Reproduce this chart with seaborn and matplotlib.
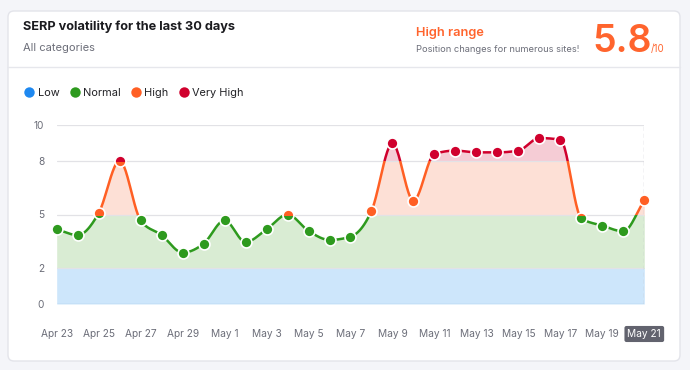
import numpy as np
import seaborn as sns
import matplotlib.pyplot as plt
from matplotlib.patches import FancyBboxPatch, Rectangle
from matplotlib.lines import Line2D
from matplotlib.transforms import IdentityTransform

# data
dates = ['Apr 23', 'Apr 24', 'Apr 25', 'Apr 26', 'Apr 27', 'Apr 28', 'Apr 29', 'Apr 30',
         'May 1', 'May 2', 'May 3', 'May 4', 'May 5', 'May 6', 'May 7', 'May 8', 'May 9',
         'May 10', 'May 11', 'May 12', 'May 13', 'May 14', 'May 15', 'May 16', 'May 17',
         'May 18', 'May 19', 'May 20', 'May 21']
volatility = [4.17, 3.85, 5.08, 8.0, 4.67, 3.85, 2.87, 3.37,
              4.67, 3.46, 4.17, 5.0, 4.08, 3.58, 3.76, 5.2, 8.97,
              5.77, 8.38, 8.57, 8.47, 8.47, 8.57, 9.27, 9.18,
              4.79, 4.38, 4.06, 5.8]
band_names = ['Low', 'Normal', 'High', 'Very High']
band_edges = [0, 2, 5, 8, 10]
y_ticks = [0, 2, 5, 8, 10]
score = 5.8

line_colors = ['#1e88f0', '#2e9a1e', '#ff5f24', '#d0002d']
fill_colors = ['#cde6fb', '#d9ecd3', '#fde0d6', '#f5ccd5']
ORANGE = '#ff642d'
GRAY = '#6c6e79'

W, H = 690, 370


def fx(x):
    return x / W


def fy(y):
    return 1 - y / H


def monotone(x, y, n=24):
    # monotone cubic (Fritsch-Carlson) for drawing the smooth line
    x = np.asarray(x, float)
    y = np.asarray(y, float)
    h = np.diff(x)
    d = np.diff(y) / h
    m = np.zeros_like(y)
    m[0], m[-1] = d[0], d[-1]
    for k in range(1, len(y) - 1):
        if d[k - 1] * d[k] <= 0:
            m[k] = 0
        else:
            p = (d[k - 1] * h[k] + d[k] * h[k - 1]) / (h[k - 1] + h[k])
            m[k] = np.sign(d[k]) * min(abs(d[k - 1]), abs(d[k]), 0.5 * abs(p)) * 2
    xs, ys = [], []
    for k in range(len(h)):
        t = np.linspace(0, 1, n, endpoint=False)
        h00 = 2 * t**3 - 3 * t**2 + 1
        h10 = t**3 - 2 * t**2 + t
        h01 = -2 * t**3 + 3 * t**2
        h11 = t**3 - t**2
        xs.append(x[k] + t * h[k])
        ys.append(h00 * y[k] + h10 * h[k] * m[k] + h01 * y[k + 1] + h11 * h[k] * m[k + 1])
    xs.append([x[-1]])
    ys.append([y[-1]])
    return np.concatenate(xs), np.concatenate(ys)


sns.set_theme(style='white')
plt.rcParams['font.family'] = ['Inter', 'DejaVu Sans']

fig = plt.figure(figsize=(W / 100, H / 100), dpi=100)
fig.patch.set_facecolor('#f4f5f9')

# white card (behind the axes)
card = FancyBboxPatch((8, H - 361), 672, 350, boxstyle='round,pad=0,rounding_size=6',
                      transform=IdentityTransform(), fc='white', ec='#e3e4ea', lw=1,
                      zorder=-10)
fig.add_artist(card)
fig.add_artist(Line2D([fx(8), fx(680)], [fy(67), fy(67)], color='#e6e7ec', lw=1, zorder=-9))

# header
fig.text(fx(23), fy(27), 'SERP volatility for the last 30 days', fontsize=9.2,
         fontweight='bold', color='#1b1b1f', va='center')
fig.text(fx(23), fy(48), 'All categories', fontsize=8, color=GRAY, va='center')
fig.text(fx(416), fy(33), 'High range', fontsize=9.2, fontweight='semibold',
         color=ORANGE, va='center')
fig.text(fx(416), fy(49), 'Position changes for numerous sites!', fontsize=6.7,
         color=GRAY, va='center')
fig.text(fx(592), fy(52), f'{score}', fontsize=27, fontweight='semibold',
         color=ORANGE, va='baseline')
fig.text(fx(651), fy(52), '/10', fontsize=7, color=ORANGE, va='baseline')

ax = fig.add_axes([fx(56.7), fy(304), fx(644.3 - 56.7), (304 - 125) / H])
ax.set_facecolor('none')

x = np.arange(len(volatility))
xs, ys = monotone(x, volatility)

# each band gets its own colour: draw fill, line and dots once per band, clipped to it
for i in range(4):
    lo, hi = band_edges[i], band_edges[i + 1]
    if i == 0:
        lo = -1
    if i == 3:
        hi = 11
    clip = Rectangle((-2, lo), len(x) + 3, hi - lo, transform=ax.transData)
    f = ax.fill_between(xs, 0, ys, color=fill_colors[i], lw=0, zorder=1)
    f.set_clip_path(clip)
    ln, = ax.plot(xs, ys, color=line_colors[i], lw=1.8, zorder=4, solid_capstyle='round')
    ln.set_clip_path(clip)
    sns.scatterplot(x=x, y=volatility, ax=ax, color=line_colors[i], s=62,
                    edgecolor='white', linewidth=1.2, zorder=5, legend=False)
    ax.collections[-1].set_clip_path(clip)

for g in [2, 5, 8, 10]:
    ax.axhline(g, color='#e2e2e6', lw=0.9, zorder=2)
ax.axhline(0, color='#a9c9e8', lw=1, zorder=2)
ax.plot([x[-1], x[-1]], [0, 10], color='#c4c5cc', lw=1, ls=(0, (3, 2)), zorder=3)

ax.set_xlim(0, len(x) - 1)
ax.set_ylim(0, 10)
for s in ax.spines.values():
    s.set_visible(False)
ax.set_yticks(y_ticks)
ax.set_yticklabels([str(t) for t in y_ticks])
ax.set_xticks(x[::2])
ax.set_xticklabels(dates[::2])
ax.tick_params(axis='y', length=0, pad=9, labelsize=7.3, labelcolor=GRAY)
ax.tick_params(axis='x', length=0, pad=18, labelsize=7.3, labelcolor=GRAY)
last = ax.get_xticklabels()[-1]
last.set_color('white')
last.set_bbox(dict(boxstyle='round,pad=0.3,rounding_size=0.2', fc='#62636e', ec='none'))
ax.grid(False)

handles = [Line2D([], [], marker='o', ls='', markersize=7.5, color=c, markeredgewidth=0)
           for c in line_colors]
fig.legend(handles, band_names, loc='center left', bbox_to_anchor=(fx(13), fy(92.5)),
           ncol=4, frameon=False, fontsize=7.9, handletextpad=0.15, columnspacing=0.8,
           handlelength=1.2, labelcolor='#222226')

fig.savefig('out.png', dpi=100)
